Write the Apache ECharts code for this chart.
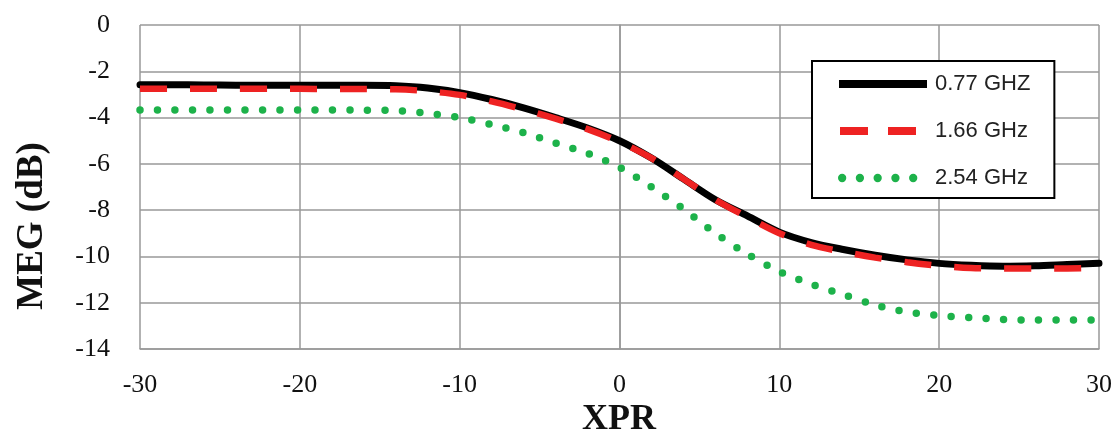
<!DOCTYPE html>
<html>
<head>
<meta charset="utf-8">
<script src="https://cdn.jsdelivr.net/npm/echarts@6/dist/echarts.min.js"></script>
<style>html,body{margin:0;padding:0;background:#fff}#c{width:1117px;height:435px}</style>
</head>
<body>
<div id="c"></div>
<script>
const xpr = [-30,-28,-26,-24,-22,-20,-18,-16,-14,-12,-10,-8,-6,-4,-2,0,2,4,6,8,10,12,14,16,18,20,22,24,26,28,30];
const meg077 = [-2.58,-2.58,-2.59,-2.6,-2.6,-2.6,-2.6,-2.6,-2.62,-2.72,-2.92,-3.22,-3.58,-4.0,-4.45,-5.0,-5.75,-6.65,-7.55,-8.25,-8.95,-9.4,-9.7,-9.95,-10.15,-10.3,-10.38,-10.42,-10.4,-10.35,-10.3];
const meg166 = [-2.75,-2.75,-2.75,-2.76,-2.76,-2.76,-2.77,-2.77,-2.78,-2.86,-3.02,-3.3,-3.65,-4.05,-4.5,-5.05,-5.75,-6.65,-7.55,-8.3,-9.0,-9.5,-9.8,-10.05,-10.25,-10.4,-10.5,-10.52,-10.52,-10.52,-10.5];
const meg254 = [-3.67,-3.67,-3.67,-3.67,-3.67,-3.67,-3.67,-3.68,-3.7,-3.82,-4.0,-4.3,-4.65,-5.1,-5.55,-6.15,-7.0,-7.95,-9.0,-9.9,-10.65,-11.2,-11.65,-12.1,-12.4,-12.55,-12.65,-12.72,-12.75,-12.75,-12.75];
const seriesNames = ['0.77 GHZ','1.66 GHz','2.54 GHz'];
const yTitle = 'MEG (dB)';
const xTitle = 'XPR';

const pair = arr => xpr.map((x,i)=>[x, arr[i]]);
// legend sample icons (box 0..90 x 0..20)
const frame = 'M0 0 M90 20 ';
const iconSolid = 'path://' + frame + 'M1 6 L89 6 L89 14 L1 14 Z';
const iconDash = 'path://' + frame + 'M2 6 L30 6 L30 14 L2 14 Z M50 6 L78 6 L78 14 L50 14 Z';
const dot = (cx, r) => `M${cx - r} 10 A${r} ${r} 0 1 0 ${cx + r} 10 A${r} ${r} 0 1 0 ${cx - r} 10 Z `;
const iconDots = 'path://' + frame + [3, 21, 39, 57, 75].map(c => dot(c, 4.2)).join('');

const chart = echarts.init(document.getElementById('c'), null, {renderer:'canvas'});
chart.setOption({
  animation: false,
  backgroundColor: '#fff',
  grid: {left: 140, right: 18, top: 25, bottom: 86, containLabel: false},
  xAxis: {
    type: 'value', min: -30, max: 30, interval: 10,
    axisLine: {show: true, onZero: false, lineStyle: {color: '#999', width: 1.5}},
    axisTick: {show: false},
    splitLine: {show: true, lineStyle: {color: '#999', width: 1.5}},
    axisLabel: {margin: 23, fontFamily: 'Liberation Serif', fontSize: 26, color: '#111'}
  },
  yAxis: {
    type: 'value', min: -14, max: 0, interval: 2,
    axisLine: {show: true, lineStyle: {color: '#999', width: 1.5}},
    axisTick: {show: false},
    splitLine: {show: true, lineStyle: {color: '#999', width: 1.5}},
    axisLabel: {margin: 30, fontFamily: 'Liberation Serif', fontSize: 26, color: '#111'}
  },
  legend: {
    orient: 'vertical', left: 812, top: 61,
    data: [
      {name: seriesNames[0], icon: iconSolid},
      {name: seriesNames[1], icon: iconDash},
      {name: seriesNames[2], icon: iconDots}
    ],
    itemWidth: 90, itemHeight: 20, itemGap: 25,
    padding: [12, 24, 9, 26],
    borderColor: '#000', borderWidth: 2, backgroundColor: '#fff',
    itemStyle: {borderWidth: 0},
    textStyle: {fontFamily: 'Liberation Sans', fontSize: 22, color: '#222', padding: [0,0,0,2]}
  },
  graphic: [
    {type: 'text', rotation: Math.PI/2, x: 32, y: 226,
     style: {text: yTitle, align: 'center', verticalAlign: 'middle', fontFamily: 'Liberation Serif', fontWeight: 'bold', fontSize: 37, fill: '#111'}},
    {type: 'text', x: 619, y: 420,
     style: {text: xTitle, align: 'center', verticalAlign: 'middle', fontFamily: 'Liberation Serif', fontWeight: 'bold', fontSize: 36, fill: '#111'}}
  ],
  series: [
    {name: seriesNames[2], type: 'line', data: pair(meg254), smooth: 0.3, symbol: 'none', z: 2,
     lineStyle: {color: '#1db24a', width: 7.5, type: [0, 17.5], cap: 'round'}, itemStyle: {color: '#1db24a'}},
    {name: seriesNames[0], type: 'line', data: pair(meg077), smooth: 0.3, symbol: 'none', z: 3,
     lineStyle: {color: '#000', width: 7, cap: 'round'}, itemStyle: {color: '#000'}},
    {name: seriesNames[1], type: 'line', data: pair(meg166), smooth: 0.3, symbol: 'none', z: 4,
     lineStyle: {color: '#ee2222', width: 6.5, type: [27, 23], cap: 'butt'}, itemStyle: {color: '#ee2222'}}
  ]
});
</script>
</body>
</html>
